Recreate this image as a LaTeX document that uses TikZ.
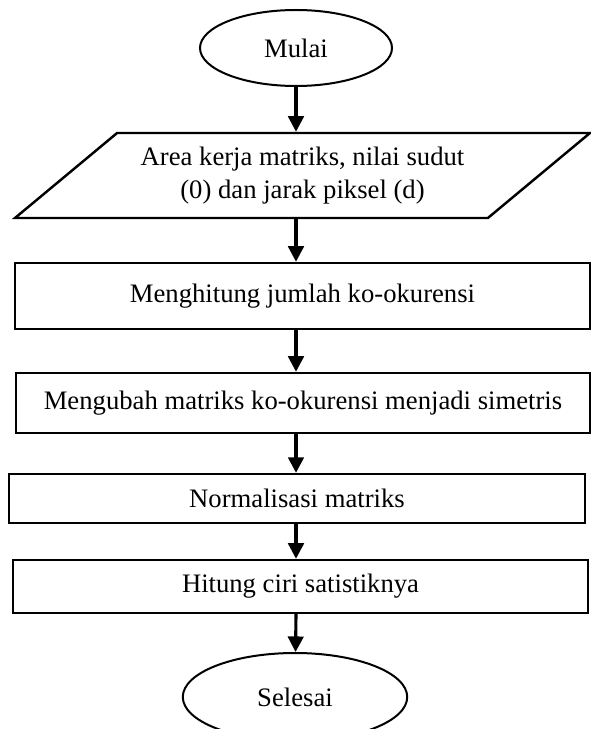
\documentclass[tikz,border=0pt,12pt]{standalone}
\usepackage{fontspec}
\setmainfont{Liberation Serif}
\usetikzlibrary{shapes.geometric,arrows.meta}

\begin{document}
\begin{tikzpicture}[x=0.45pt,y=-0.45pt,
                    terminal/.style={ellipse,draw,line width=0.9pt,inner sep=0pt},
                    proses/.style={rectangle,draw,line width=1.1pt,inner sep=0pt},
                    masukan/.style={trapezium,draw,line width=1.1pt,
                                    trapezium left angle=36,trapezium right angle=144,
                                    trapezium stretches body,align=center},
                    panah/.style={-{Triangle[width=7pt,length=7pt]},line width=1.4pt}]
                    \useasboundingbox (0,0) rectangle (590,729);
                    \node[terminal,minimum width=86.4pt,minimum height=34.2pt] (mulai) at (296,48) {Mulai};
                    \node[masukan,minimum width=258.75pt,minimum height=38.25pt] (area) at (302.5,175.5)
                        {Area kerja matriks, nilai sudut\\(0) dan jarak piksel (d)};
                    \node[proses,minimum width=258.75pt,minimum height=29.7pt] (hitung) at (302.5,296) {Menghitung jumlah ko-okurensi};
                    \node[proses,minimum width=258.3pt,minimum height=27pt] (simetris) at (303,403) {Mengubah matriks ko-okurensi menjadi simetris};
                    \node[proses,minimum width=259.2pt,minimum height=22pt] (normal) at (297,498.5) {Normalisasi matriks};
                    \node[proses,minimum width=258.75pt,minimum height=23.85pt] (ciri) at (300.5,586.5) {Hitung ciri satistiknya};
                    \node[terminal,minimum width=101pt,minimum height=39.6pt] (selesai) at (295,697) {Selesai};
                    \draw[panah] (mulai) -- (mulai |- area.north);
                    \draw[panah] (mulai |- area.south) -- (mulai |- hitung.north);
                    \draw[panah] (mulai |- hitung.south) -- (mulai |- simetris.north);
                    \draw[panah] (mulai |- simetris.south) -- (mulai |- normal.north);
                    \draw[panah] (mulai |- normal.south) -- (mulai |- ciri.north);
                    \draw[panah] (mulai |- ciri.south) -- (selesai);
\end{tikzpicture}
\end{document}
